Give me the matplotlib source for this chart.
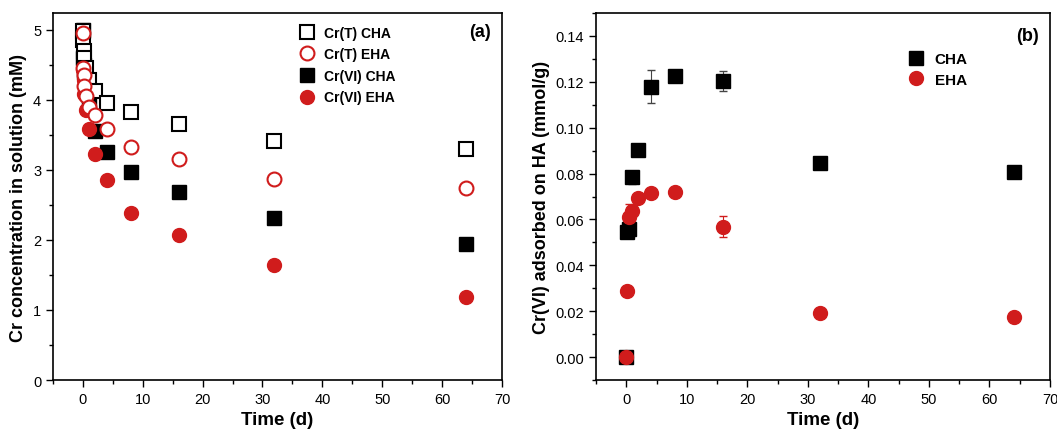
import numpy as np
import matplotlib
matplotlib.use("Agg")
import matplotlib.pyplot as plt
from matplotlib.ticker import MultipleLocator, FormatStrFormatter
from matplotlib.lines import Line2D

plt.rcParams["font.family"] = ["Liberation Sans", "DejaVu Sans"]

# ── Data: panel (a) ───────────────────────────────────────────────────
t_a = [0, 0.04, 0.17, 0.25, 0.5, 1, 2, 4, 8, 16, 32, 64]
crT_cha = [4.98, 4.85, 4.70, 4.60, 4.45, 4.29, 4.12, 3.95, 3.82, 3.66, 3.41, 3.30]
crT_eha = [4.95, 4.45, 4.35, 4.20, 4.05, 3.90, 3.78, 3.58, 3.33, 3.15, 2.87, 2.74]
crVI_cha = [5.00, 4.60, 4.50, 4.40, 4.20, 3.92, 3.55, 3.25, 2.97, 2.69, 2.32, 1.94]
crVI_eha = [4.90, 4.43, 4.28, 4.09, 3.86, 3.59, 3.23, 2.85, 2.39, 2.07, 1.64, 1.18]
crT_err = [0.03] * 12

# ── Data: panel (b) ───────────────────────────────────────────────────
t_b = [0, 0.17, 0.5, 1, 2, 4, 8, 16, 32, 64]
ads_cha = [0.0, 0.0544, 0.0558, 0.0783, 0.0904, 0.1179, 0.1226, 0.1204, 0.0848, 0.0809]
ads_cha_err = [0, 0.002, 0.004, 0.003, 0.001, 0.0072, 0.001, 0.0045, 0.001, 0.001]
ads_eha = [0.0, 0.0289, 0.0609, 0.0638, 0.0692, 0.0715, 0.0718, 0.0569, 0.019, 0.0173]
ads_eha_err = [0, 0.001, 0.006, 0.002, 0.001, 0.001, 0.001, 0.0045, 0.001, 0.001]

red = "#d01c1c"
ms = 9.5

fig = plt.figure(figsize=(10.57, 4.39), dpi=100)
ax1 = fig.add_axes([0.0501, 0.1321, 0.4248, 0.836])
ax2 = fig.add_axes([0.5639, 0.1321, 0.4295, 0.836])

# ── Panel (a) ─────────────────────────────────────────────────────────
ax1.errorbar(t_a, crT_cha, yerr=crT_err, fmt="s", ms=ms, mfc="white", mec="black",
             mew=1.5, ecolor="black", elinewidth=0.8, capsize=2)
ax1.errorbar(t_a, crT_eha, yerr=crT_err, fmt="o", ms=ms + 0.5, mfc="white", mec=red,
             mew=1.5, ecolor=red, elinewidth=0.8, capsize=2)
ax1.plot(t_a, crVI_cha, "s", ms=ms, color="black")
ax1.plot(t_a, crVI_eha, "o", ms=ms + 0.5, color=red)

ax1.set_xlim(-5, 70)
ax1.set_ylim(0, 5.24)
ax1.xaxis.set_major_locator(MultipleLocator(10))
ax1.xaxis.set_minor_locator(MultipleLocator(5))
ax1.yaxis.set_major_locator(MultipleLocator(1))
ax1.yaxis.set_minor_locator(MultipleLocator(0.5))
ax1.set_xlabel("Time (d)", fontsize=13.5, fontweight="bold")
ax1.set_ylabel("Cr concentration in solution (mM)", fontsize=13, fontweight="bold")
ax1.text(0.975, 0.95, "(a)", transform=ax1.transAxes, ha="right", va="center",
         fontsize=13, fontweight="bold")

h1 = [
    Line2D([], [], ls="none", marker="s", ms=ms, mfc="white", mec="black", mew=1.5),
    Line2D([], [], ls="none", marker="o", ms=ms + 0.5, mfc="white", mec=red, mew=1.5),
    Line2D([], [], ls="none", marker="s", ms=ms, color="black"),
    Line2D([], [], ls="none", marker="o", ms=ms + 0.5, color=red),
]
ax1.legend(h1, ["Cr(T) CHA", "Cr(T) EHA", "Cr(VI) CHA", "Cr(VI) EHA"],
           loc="upper left", bbox_to_anchor=(0.52, 1.0), frameon=False,
           prop={"weight": "bold", "size": 10}, handletextpad=0.6,
           labelspacing=0.55, handlelength=1.2)

# ── Panel (b) ─────────────────────────────────────────────────────────
ax2.errorbar(t_b, ads_cha, yerr=ads_cha_err, fmt="s", ms=ms, color="black",
             ecolor="#444444", elinewidth=0.8, capsize=3)
ax2.errorbar(t_b, ads_eha, yerr=ads_eha_err, fmt="o", ms=ms + 0.5, color=red,
             ecolor=red, elinewidth=0.8, capsize=3)

ax2.set_xlim(-5, 70)
ax2.set_ylim(-0.01, 0.15)
ax2.xaxis.set_major_locator(MultipleLocator(10))
ax2.xaxis.set_minor_locator(MultipleLocator(5))
ax2.yaxis.set_major_locator(MultipleLocator(0.02))
ax2.yaxis.set_minor_locator(MultipleLocator(0.01))
ax2.yaxis.set_major_formatter(FormatStrFormatter("%.2f"))
ax2.set_xlabel("Time (d)", fontsize=13.5, fontweight="bold")
ax2.set_ylabel("Cr(VI) adsorbed on HA (mmol/g)", fontsize=13, fontweight="bold")
ax2.text(0.975, 0.94, "(b)", transform=ax2.transAxes, ha="right", va="center",
         fontsize=13, fontweight="bold")

h2 = [
    Line2D([], [], ls="none", marker="s", ms=ms, color="black"),
    Line2D([], [], ls="none", marker="o", ms=ms + 0.5, color=red),
]
ax2.legend(h2, ["CHA", "EHA"], loc="upper left", bbox_to_anchor=(0.655, 0.93),
           frameon=False, prop={"weight": "bold", "size": 11}, handletextpad=0.6,
           labelspacing=0.4, handlelength=1.2)

for ax in (ax1, ax2):
    ax.tick_params(which="both", direction="out", top=False, right=False,
                   labelsize=10.5, width=1)
    ax.tick_params(which="major", length=5)
    ax.tick_params(which="minor", length=3)
    for sp in ax.spines.values():
        sp.set_linewidth(1.2)

fig.savefig("out.png", dpi=100)
